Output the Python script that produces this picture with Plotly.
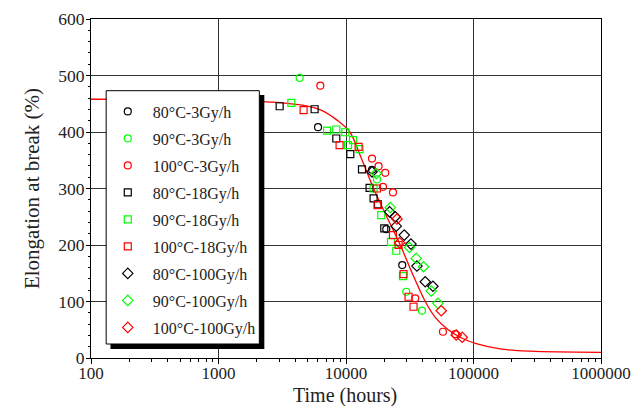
import plotly.graph_objects as go

# ---- data (time in hours, elongation at break in %) ----
t_80_3 = [6034, 16000, 20690, 27620]
v_80_3 = [408.5, 333, 228, 164.5]

t_90_3 = [4329, 17500, 29690, 39410]
v_90_3 = [495.7, 316, 117.3, 83.7]

t_100_3 = [6290, 15990, 18010, 20320, 19500, 23350, 34920, 57570, 71890]
v_100_3 = [482, 353, 339.5, 327.7, 303, 293, 105.6, 46.5, 42.4]

t_80_18 = [3017, 5674, 8395, 10806, 13350, 15310, 16460, 17810, 19960]
v_80_18 = [445.6, 440.3, 388.5, 360.8, 333.7, 301, 282.4, 272, 229.3]

t_90_18 = [3726, 7100, 8395, 9874, 11345, 10370, 12780, 16460, 18910, 22530, 24790, 27970]
v_90_18 = [451.5, 402.6, 404.4, 399.6, 385.5, 376.7, 369.6, 300, 253, 205.7, 189.8, 145]

t_100_18 = [4652, 8907, 12550, 17500, 17690, 23350, 25840, 28270, 30950, 33870]
v_100_18 = [438.6, 376.7, 373.6, 300, 270.6, 217.5, 200, 148.5, 108.4, 90.7]

t_80_100 = [15990, 21970, 24340, 24790, 28630, 32310, 36010, 41830, 48080]
v_80_100 = [329.5, 258.7, 250, 233.4, 217.5, 201.6, 162.7, 135, 127]

t_90_100 = [17280, 22250, 31510, 35560, 40570, 46630, 52600]
v_90_100 = [326.6, 266.5, 195.7, 176.3, 161.5, 118.5, 96.7]

t_100_100 = [25100, 26310, 55840, 73190, 81540]
v_100_100 = [246, 204, 83.6, 40.7, 36.6]

# fitted curve
t_fit = [100, 1000, 2551, 4652, 6290, 8503, 10710, 12950, 16460, 20880, 26640,
         33080, 41830, 50110, 63340, 81540, 106900, 161800, 278000, 1000000]
v_fit = [458, 457, 453, 447, 439, 421, 400, 358, 300, 250, 200,
         150, 100, 72, 50, 35, 25, 16, 12, 10]

x_ticks = [100, 1000, 10000, 100000, 1000000]
x_labels = ["100", "1000", "10000", "100000", "1000000"]

BLACK = "#000000"
GREEN = "#00ff00"
RED = "#ff0000"

series = [
    ("80°C-3Gy/h", t_80_3, v_80_3, "circle-open", BLACK, 7),
    ("90°C-3Gy/h", t_90_3, v_90_3, "circle-open", GREEN, 7),
    ("100°C-3Gy/h", t_100_3, v_100_3, "circle-open", RED, 7),
    ("80°C-18Gy/h", t_80_18, v_80_18, "square-open", BLACK, 7),
    ("90°C-18Gy/h", t_90_18, v_90_18, "square-open", GREEN, 7),
    ("100°C-18Gy/h", t_100_18, v_100_18, "square-open", RED, 7),
    ("80°C-100Gy/h", t_80_100, v_80_100, "diamond-open", BLACK, 8),
    ("90°C-100Gy/h", t_90_100, v_90_100, "diamond-open", GREEN, 8),
    ("100°C-100Gy/h", t_100_100, v_100_100, "diamond-open", RED, 8),
]

FONT = "Liberation Serif, Times New Roman, serif"

fig = go.Figure()
fig.add_trace(go.Scatter(x=t_fit, y=v_fit, mode="lines", line=dict(color=RED, width=1.3, shape="spline"),
                         showlegend=False, hoverinfo="skip"))
for i, (name, tx, vy, sym, col, sz) in enumerate(series):
    fig.add_trace(go.Scatter(x=tx, y=vy, mode="markers", name=name, legendgroup=f"g{i}",
                             marker=dict(symbol=sym, size=sz, color=col, line=dict(color=col, width=1.2))))

# pixel geometry helpers for the legend box, its shadow and the x title
L, R, T, B = 90.5, 601, 19, 358
def px(x):
    return (x - L) / (R - L)
def py(y):
    return (B - y) / (B - T)

fig.add_shape(type="rect", xref="paper", yref="paper",
              x0=px(110), x1=px(264), y0=py(349), y1=py(95),
              fillcolor="black", line=dict(width=0), layer="above")
fig.add_shape(type="rect", xref="paper", yref="paper",
              x0=px(105.7), x1=px(259), y0=py(344), y1=py(90.7),
              fillcolor="white", line=dict(color="black", width=1), layer="above")

fig.add_annotation(text="Time (hours)", xref="paper", yref="paper", x=px(345), y=py(395.5),
                   xanchor="center", yanchor="middle", showarrow=False,
                   font=dict(family=FONT, size=20, color="#222"))

fig.update_layout(
    width=634, height=406,
    margin=dict(l=L, r=634 - R, t=T, b=406 - B),
    paper_bgcolor="white", plot_bgcolor="white",
    font=dict(family=FONT, color="#222", size=17),
    showlegend=True,
    legend=dict(x=px(102.3), y=py(94.5), xanchor="left", yanchor="top",
                bgcolor="rgba(0,0,0,0)", borderwidth=0, itemwidth=40,
                font=dict(family=FONT, size=16, color="#222"),
                traceorder="grouped", tracegroupgap=3.2),
)
fig.update_xaxes(type="log", range=[2, 6], tickvals=x_ticks, ticktext=x_labels, automargin=False,
                 showgrid=True, gridcolor="#333", gridwidth=1,
                 showline=True, linecolor="black", linewidth=1, mirror=True,
                 ticks="outside", ticklen=5, tickcolor="black", ticklabelstandoff=-5,
                 tickfont=dict(family=FONT, size=17, color="#222"),
                 minor=dict(ticks="outside", ticklen=3, tickcolor="black", dtick="D1", showgrid=False),
                 zeroline=False)
fig.update_yaxes(range=[0, 600], dtick=100, showgrid=True, gridcolor="#333", gridwidth=1, automargin=False,
                 showline=True, linecolor="black", linewidth=1, mirror=True,
                 ticks="outside", ticklen=4, tickcolor="black", ticklabelstandoff=-2,
                 tickfont=dict(family=FONT, size=17.5, color="#222"),
                 minor=dict(ticks="outside", ticklen=2, tickcolor="black", dtick=20, showgrid=False),
                 title=dict(text="Elongation at break (%)", font=dict(family=FONT, size=21, color="#222"), standoff=12),
                 zeroline=False)

fig.write_html("out.html")
